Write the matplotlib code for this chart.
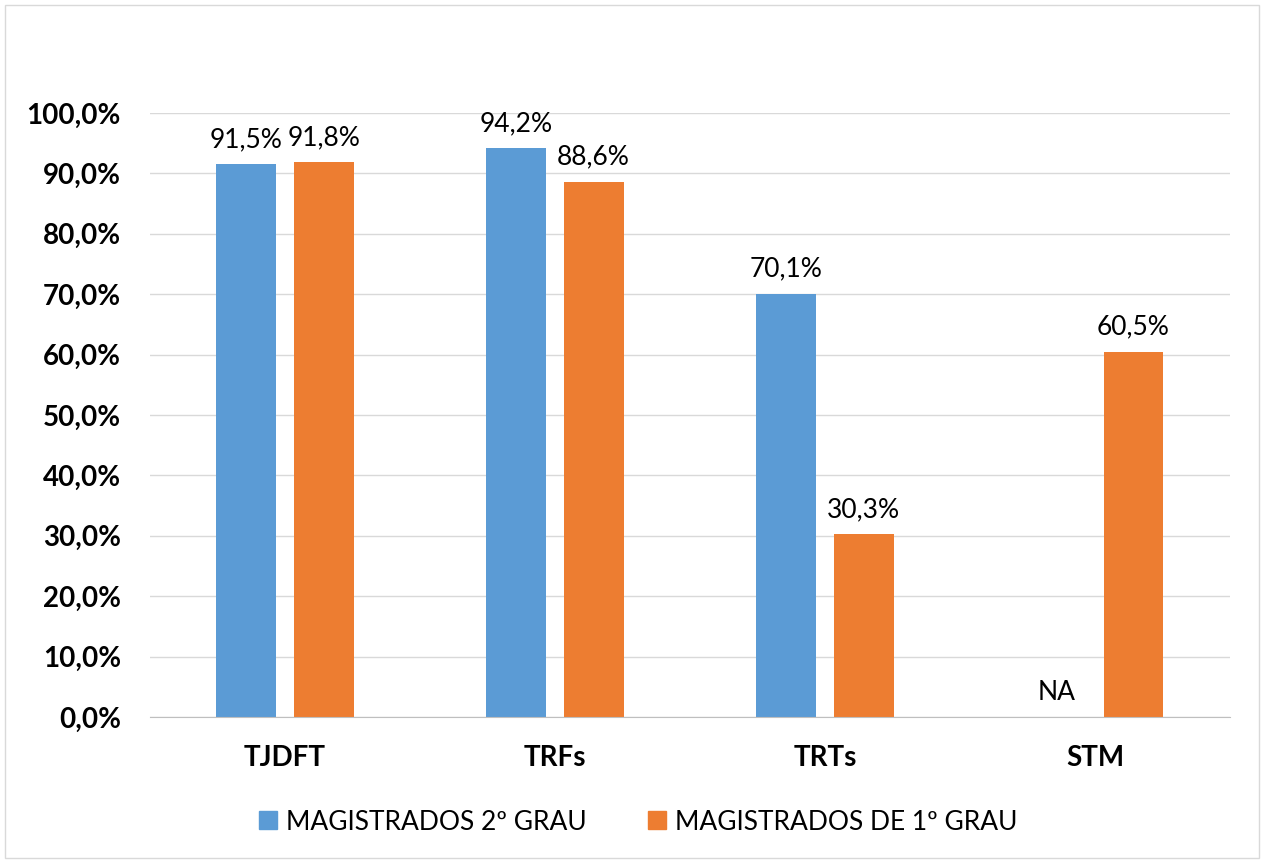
import matplotlib
matplotlib.use("Agg")
import matplotlib.pyplot as plt
import numpy as np
from matplotlib.patches import Rectangle

categories = ["TJDFT", "TRFs", "TRTs", "STM"]
grau2 = [91.5, 94.2, 70.1, None]
grau1 = [91.8, 88.6, 30.3, 60.5]
series_names = ["MAGISTRADOS 2º GRAU", "MAGISTRADOS DE 1º GRAU"]
yticks = np.arange(0, 101, 10)

BLUE = "#5B9BD5"
ORANGE = "#ED7D31"

plt.rcParams["font.family"] = ["Lato", "DejaVu Sans"]

fig = plt.figure(figsize=(12.64, 8.63), dpi=100)
ax = fig.add_axes([0.1187, 0.1692, 0.8543, 0.6999])

x = np.arange(len(categories))
w = 0.222
off = 0.143


def pct(v):
    return f"{v:.1f}%".replace(".", ",")


for i, v in enumerate(grau2):
    if v is None:
        ax.text(x[i] - off, 2.0, "NA", ha="center", va="bottom", fontsize=19, color="black")
        continue
    ax.bar(x[i] - off, v, w, color=BLUE, zorder=3)
    ax.text(x[i] - off, v + 2.0, pct(v), ha="center", va="bottom", fontsize=19, color="black")
for i, v in enumerate(grau1):
    ax.bar(x[i] + off, v, w, color=ORANGE, zorder=3)
    ax.text(x[i] + off, v + 2.0, pct(v), ha="center", va="bottom", fontsize=19, color="black")

ax.set_xlim(-0.5, 3.5)
ax.set_ylim(0, 100)
ax.set_yticks(yticks)
ax.set_yticklabels([pct(t) for t in yticks], fontsize=20, fontweight="bold")
ax.set_xticks(x)
ax.set_xticklabels(categories, fontsize=20, fontweight="bold")
ax.tick_params(axis="y", length=0, pad=21, colors="black")
ax.tick_params(axis="x", length=0, pad=20, colors="black")
ax.yaxis.grid(True, color="#D9D9D9", linewidth=1, zorder=0)
for s in ["top", "right", "left"]:
    ax.spines[s].set_visible(False)
ax.spines["bottom"].set_color("#BFBFBF")
ax.spines["bottom"].set_zorder(4)

handles = [Rectangle((0, 0), 1, 1, color=BLUE), Rectangle((0, 0), 1, 1, color=ORANGE)]
fig.legend(handles, series_names, loc="center", bbox_to_anchor=(0.505, 0.0475), ncol=2,
           frameon=False, fontsize=19, handlelength=0.68, handleheight=0.68,
           columnspacing=2.3, handletextpad=0.35)

fig.patches.append(Rectangle((0.004, 0.006), 0.992, 0.988, transform=fig.transFigure,
                             fill=False, edgecolor="#D9D9D9", linewidth=1))

fig.savefig("out.png", dpi=100)
